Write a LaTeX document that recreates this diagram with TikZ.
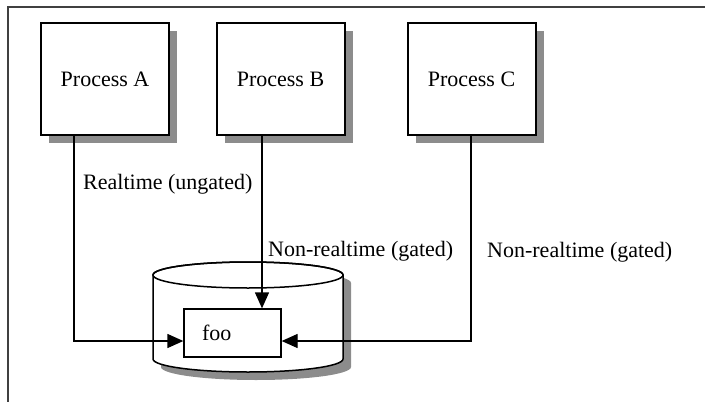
\documentclass[tikz,border=0pt]{standalone}
\usepackage{fontspec}
\setmainfont{Liberation Serif}
\usetikzlibrary{arrows.meta,shadows}

\begin{document}
\begin{tikzpicture}[x=1pt, y=-1pt,
  dshadow/.style={drop shadow={shadow xshift=8pt, shadow yshift=-8pt, fill=black!45, opacity=1}},
  proc/.style={draw, line width=2pt, fill=white, minimum width=128pt, minimum height=112pt, inner sep=0pt, dshadow},
  link/.style={line width=1.3pt, -{Triangle[length=16pt, width=14pt]}},
  lbl/.style={anchor=west, inner sep=0pt},
  font=\fontsize{22}{26}\selectfont]
  \useasboundingbox (0,0) rectangle (705,402);
  % frame
  \draw[line width=2pt, black!75] (8,402) -- (8,7) -- (705,7);

  % process boxes
  \foreach \n/\x in {A/105, B/280.5, C/471.5}
    \node[proc] (P\n) at (\x,79) {Process \n};

  % store with foo
  \path[draw, line width=1.5pt, fill=white, dshadow] (153,275) -- (153,359)
    arc[start angle=180, end angle=0, x radius=95, y radius=13] -- (343,275)
    arc[start angle=0, end angle=-180, x radius=95, y radius=13] -- cycle;
  \draw[line width=1.5pt] (248,275) ellipse[x radius=95, y radius=13];
  \node[draw, line width=1.3pt, minimum width=97pt, minimum height=48pt,
    text width=61pt, inner xsep=18pt, align=left] (foo) at (232.5,333) {foo};

  % connectors
  \coordinate (inA) at ([yshift=-8pt]foo.west);
  \coordinate (inC) at ([yshift=-8pt]foo.east);
  \draw[link] ([xshift=-31pt]PA.south) |- (inA);
  \draw[link] ([xshift=-18.5pt]PB.south) -- ([xshift=-18.5pt]PB.south |- foo.north);
  \draw[link] ([xshift=-0.5pt]PC.south) |- (inC);

  % labels
  \node[lbl] (lRT) at (83,184) {Realtime (ungated)};
  \node[lbl] (lNB) at (268,251) {Non-realtime (gated)};
  \node[lbl] (lNC) at (487,252) {Non-realtime (gated)};
\end{tikzpicture}
\end{document}
